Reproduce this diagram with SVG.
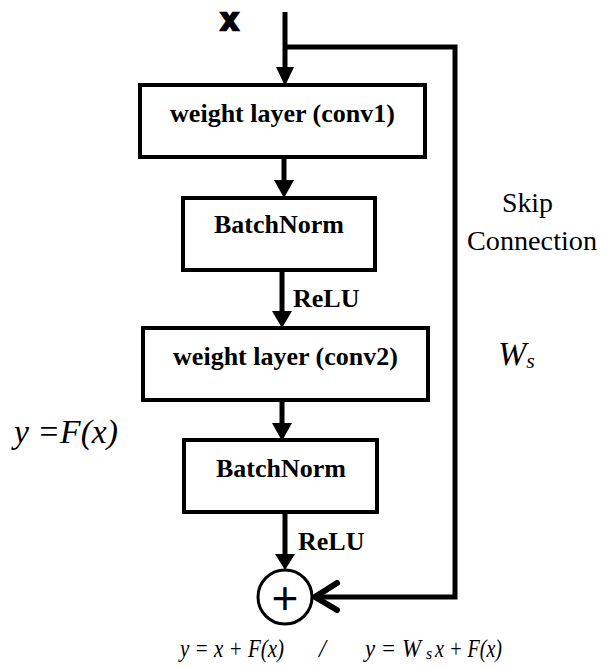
<svg xmlns="http://www.w3.org/2000/svg" width="601" height="668" viewBox="0 0 601 668">
<style>
.box{fill:#fff;stroke:#000;stroke-width:4}
.lbl{font-family:"Liberation Serif",serif;font-weight:bold;font-size:26px;text-anchor:middle;fill:#000}
.line{fill:none;stroke:#000;stroke-width:5}
.head{fill:#000;stroke:none}
.pal{font-family:"Liberation Serif",serif;fill:#000}
.it{font-family:"Liberation Serif",serif;font-style:italic;fill:#000}
</style>
<rect width="601" height="668" fill="#fff"/>
<text id="input-x" x="221" y="30" style="font-family:'Liberation Sans',sans-serif;font-weight:bold;font-size:31px" stroke="#000" stroke-width="2.6" stroke-linejoin="miter">x</text>
<g id="connectors">
  <line class="line" x1="285" y1="12" x2="285" y2="70"/>
  <polygon class="head" points="276,67 294,67 285,86"/>
  <line class="line" x1="284" y1="157" x2="284" y2="182"/>
  <polygon class="head" points="274,180 294,180 284,198"/>
  <line class="line" x1="282" y1="270" x2="282" y2="314"/>
  <polygon class="head" points="272,311 292,311 282,328"/>
  <line class="line" x1="282" y1="400" x2="282" y2="426"/>
  <polygon class="head" points="272,423 292,423 282,441"/>
  <line class="line" x1="285" y1="512" x2="285" y2="557"/>
  <polygon class="head" points="275,554 295,554 285,570"/>
  <polyline class="line" points="285,47 455,47 455,597 316,597"/>
  <polyline fill="none" stroke="#000" stroke-width="6" stroke-linecap="round" stroke-linejoin="miter" points="337,583 315,597 337,610"/>
</g>
<g id="conv1">
  <rect class="box" x="140" y="85" width="285" height="72"/>
  <text class="lbl" x="282.5" y="122">weight layer (conv1)</text>
</g>
<g id="bn1">
  <rect class="box" x="183" y="198" width="192" height="72"/>
  <text class="lbl" x="279" y="233">BatchNorm</text>
</g>
<g id="relu1"><text class="lbl" x="293" y="307" style="text-anchor:start">ReLU</text></g>
<g id="conv2">
  <rect class="box" x="143" y="328" width="285" height="72"/>
  <text class="lbl" x="285.5" y="365">weight layer (conv2)</text>
</g>
<g id="bn2">
  <rect class="box" x="184" y="440" width="193" height="72"/>
  <text class="lbl" x="281" y="477">BatchNorm</text>
</g>
<g id="relu2"><text class="lbl" x="298" y="550" style="text-anchor:start">ReLU</text></g>
<g id="sum">
  <circle cx="285" cy="597" r="27" fill="#fff" stroke="#000" stroke-width="3"/>
  <text x="285" y="614" style="font-family:'Liberation Sans',sans-serif;font-size:46px;text-anchor:middle">+</text>
</g>
<g id="skip-label">
  <text class="pal" x="502" y="212" font-size="27" textLength="51" lengthAdjust="spacingAndGlyphs">Skip</text>
  <text class="pal" x="467" y="250" font-size="27" textLength="130" lengthAdjust="spacingAndGlyphs">Connection</text>
</g>
<text class="it" x="498" y="365" font-size="34">W<tspan font-size="22" dy="3">s</tspan></text>
<text class="it" x="14" y="443" font-size="34" textLength="104" lengthAdjust="spacingAndGlyphs">y =F(x)</text>
<text class="it" x="180" y="657" font-size="25" textLength="104" lengthAdjust="spacingAndGlyphs">y = x + F(x)</text>
<text class="it" x="319" y="657" font-size="25">/</text>
<text class="it" x="365" y="657" font-size="25" textLength="56" lengthAdjust="spacingAndGlyphs">y = W</text>
<text class="it" x="426" y="659" font-size="16">s</text>
<text class="it" x="435" y="657" font-size="25" textLength="67" lengthAdjust="spacingAndGlyphs">x + F(x)</text>
</svg>
